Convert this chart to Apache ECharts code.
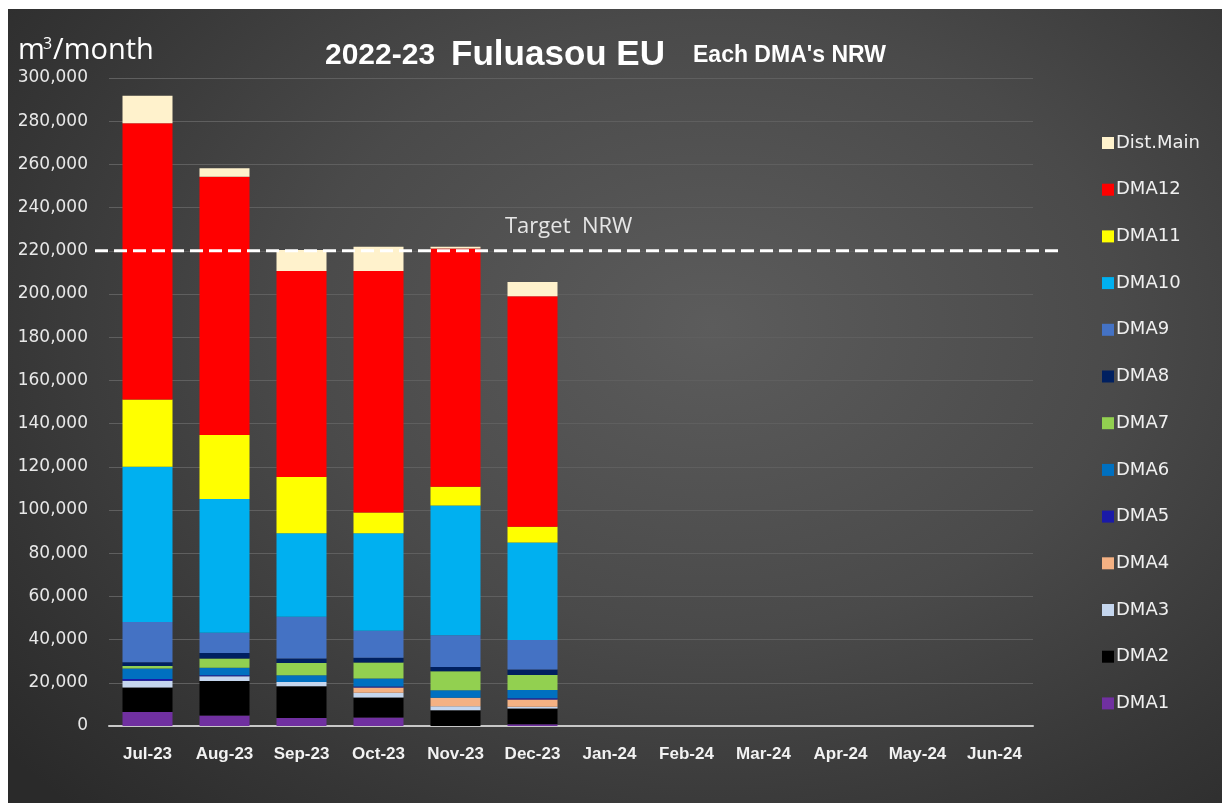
<!DOCTYPE html>
<html>
<head>
<meta charset="utf-8">
<script src="https://cdn.jsdelivr.net/npm/echarts@6/dist/echarts.min.js"></script>
<style>
html,body{margin:0;padding:0;background:#ffffff;width:1222px;height:803px;overflow:hidden;}
#chart{position:absolute;left:8px;top:9px;width:1214px;height:794px;
background:radial-gradient(ellipse 75% 85% at 58% 40%, #5c5c5c 0%, #4a4a4a 45%, #353535 80%, #2a2a2a 100%);}
</style>
</head>
<body>
<div id="chart"></div>
<script>
const months = ['Jul-23','Aug-23','Sep-23','Oct-23','Nov-23','Dec-23','Jan-24','Feb-24','Mar-24','Apr-24','May-24','Jun-24'];
const dma1  = [6500, 4900, 3700, 3900, 0, 800];
const dma2  = [11300, 15900, 14700, 9300, 7300, 7300];
const dma3  = [3100, 2200, 2000, 2200, 1800, 800];
const dma4  = [0, 0, 0, 2400, 4000, 3400];
const dma5  = [900, 500, 0, 500, 0, 500];
const dma6  = [4800, 3500, 3100, 3700, 3400, 3900];
const dma7  = [1200, 4200, 5700, 7400, 8900, 6900];
const dma8  = [1700, 2600, 2000, 2200, 1900, 2600];
const dma9  = [18700, 9400, 19400, 12500, 14700, 13600];
const dma10 = [71800, 61900, 38600, 45100, 60100, 45100];
const dma11 = [31200, 29600, 26100, 9600, 8700, 7400];
const dma12 = [127800, 119600, 95300, 111800, 110300, 106700];
const distMain = [12800, 3900, 9800, 11300, 800, 6600];
const targetNRW = 220000;
const seriesNames = ['DMA1','DMA2','DMA3','DMA4','DMA5','DMA6','DMA7','DMA8','DMA9','DMA10','DMA11','DMA12','Dist.Main'];
const seriesData = [dma1,dma2,dma3,dma4,dma5,dma6,dma7,dma8,dma9,dma10,dma11,dma12,distMain];
const colors = ['#7030A0','#000000','#C5D6EE','#F4B183','#1A1AA8','#0070C0','#92D050','#002060','#4472C4','#00B0F0','#FFFF00','#FF0000','#FFF2CC'];

const chart = echarts.init(document.getElementById('chart'), null, {renderer:'canvas'});
const barSeries = seriesNames.map((n,i)=>({
  name:n, type:'bar', stack:'nrw', data:seriesData[i], barWidth:50,
  itemStyle:{color:colors[i]}, xAxisIndex:0, yAxisIndex:0, silent:true
}));
barSeries.push({
  name:'Target', type:'line', xAxisIndex:1, yAxisIndex:1, symbol:'none', silent:true,
  data:[[0,targetNRW],[1,targetNRW]],
  lineStyle:{color:'#ffffff', width:3, type:[13,6]}, z:10
});
const option = {
  backgroundColor:'transparent',
  animation:false,
  title:{
    text:'{a|2022-23}{s|}{b|Fuluasou EU}{t|}{c|Each DMA\'s NRW}',
    left:312, top:24,
    textStyle:{
      rich:{
        a:{fontFamily:'Liberation Sans', fontWeight:'bold', fontSize:30, color:'#ffffff'},
        s:{width:16},
        t:{width:28},
        b:{fontFamily:'Liberation Sans', fontWeight:'bold', fontSize:35, color:'#ffffff'},
        c:{fontFamily:'Liberation Sans', fontWeight:'bold', fontSize:23, color:'#ffffff'}
      }
    }
  },
  graphic:[
    {type:'text', left:10, top:27, style:{text:'m', font:'29px "Open Sans", sans-serif', fill:'#ffffff'}},
    {type:'text', left:35, top:27, style:{text:'3', font:'16px "Open Sans", sans-serif', fill:'#ffffff'}},
    {type:'text', left:45, top:27, style:{text:'/month', font:'29px "Open Sans", sans-serif', fill:'#ffffff'}},
    {type:'text', left:497, top:207, style:{text:'Target  NRW', font:'22px "Open Sans", sans-serif', fill:'#e6e6e6'}}
  ],
  legend:{
    orient:'vertical', left:1089, top:119,
    data:seriesNames.slice().reverse(),
    itemWidth:12, itemHeight:12, itemGap:26.7, icon:'rect',
    textStyle:{color:'#f0f0f0', fontSize:18, fontFamily:'DejaVu Sans', lineHeight:20, padding:[0,0,0,-3]},
    selectedMode:false
  },
  grid:[
    {left:101, right:189, top:69, bottom:77},
    {left:87, right:162, top:69, bottom:77}
  ],
  xAxis:[
    {type:'category', data:months, gridIndex:0,
     axisLine:{lineStyle:{color:'#c8c8c8', width:2}}, axisTick:{show:false},
     axisLabel:{color:'#f2f2f2', fontSize:17, fontWeight:'bold', fontFamily:'Liberation Sans', margin:20, interval:0}},
    {type:'value', gridIndex:1, min:0, max:1, show:false}
  ],
  yAxis:[
    {type:'value', gridIndex:0, min:0, max:300000, interval:20000,
     axisLine:{show:false}, axisTick:{show:false},
     splitLine:{lineStyle:{color:'#5f5f5f', width:1}},
     axisLabel:{color:'#e8e8e8', fontSize:17, fontFamily:'DejaVu Sans', margin:21,
       formatter:v=>v.toLocaleString('en-US')}},
    {type:'value', gridIndex:1, min:0, max:300000, show:false}
  ],
  series:barSeries
};
chart.setOption(option);
</script>
</body>
</html>
